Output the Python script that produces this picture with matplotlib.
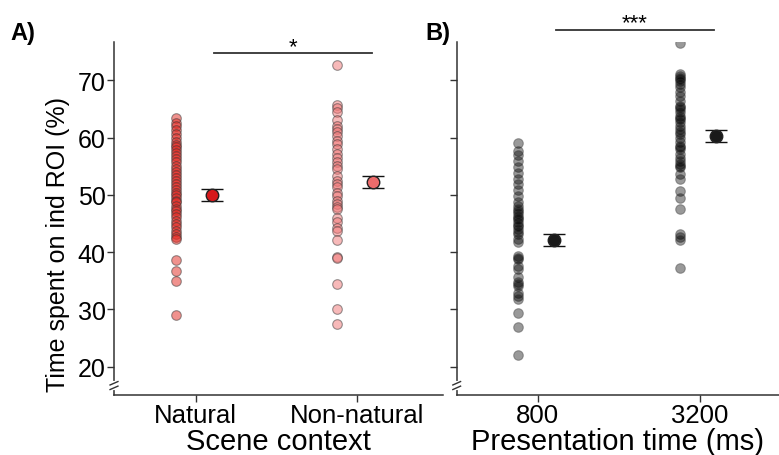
import matplotlib
matplotlib.use('Agg')
import matplotlib.pyplot as plt
from matplotlib.transforms import blended_transform_factory
import numpy as np

plt.rcParams['font.family'] = ['Liberation Sans', 'DejaVu Sans']

# ---------------- data ----------------
scene_categories = ['Natural', 'Non-natural']
natural_vals = [63.5, 62.6, 62.1, 61.4, 60.7, 60.0, 59.3, 58.7, 58.3, 57.9, 57.4, 56.8,
                56.3, 55.7, 55.1, 54.6, 54.0, 53.5, 53.0, 52.5, 51.9, 51.4, 50.9, 50.4,
                50.0, 49.5, 49.0, 48.7, 48.1, 47.6, 47.2, 46.7, 46.1, 45.5, 44.9, 44.4,
                43.7, 43.2, 42.7, 42.3, 38.6, 36.7, 35.0, 29.1]
nonnatural_vals = [72.6, 65.7, 65.1, 64.5, 63.1, 62.1, 61.5, 60.9, 60.3, 59.4, 58.9, 58.0,
                   57.1, 56.4, 55.7, 55.1, 54.5, 53.3, 52.4, 51.9, 51.3, 50.4, 49.8, 49.0,
                   48.4, 47.8, 47.5, 46.0, 45.2, 44.3, 43.7, 42.2, 39.2, 39.0, 34.4, 30.1, 27.4]
scene_means = [50.0, 52.3]
scene_se = [1.1, 1.05]

time_categories = ['800', '3200']
t800_vals = [59.0, 57.7, 56.9, 55.9, 54.8, 53.9, 52.7, 51.9, 50.9, 49.8, 48.7, 48.0,
             47.5, 47.2, 46.9, 46.3, 46.0, 45.8, 45.2, 44.8, 44.6, 44.0, 43.5, 43.1,
             42.3, 41.7, 39.3, 39.0, 38.8, 37.6, 37.0, 35.6, 34.7, 34.4, 34.1, 32.9,
             32.3, 31.8, 29.4, 26.9, 22.1]
t3200_vals = [76.5, 71.1, 70.8, 70.5, 70.2, 69.9, 69.4, 68.8, 67.9, 67.3, 66.4, 65.6,
              65.3, 65.0, 64.4, 63.8, 63.5, 63.2, 62.7, 62.1, 61.5, 61.0, 60.6, 60.0,
              59.2, 58.6, 58.3, 58.0, 57.1, 56.5, 55.9, 55.4, 55.0, 54.8, 53.6, 52.7,
              50.7, 49.5, 47.6, 43.1, 42.6, 42.1, 37.3]
time_means = [42.1, 60.3]
time_se = [1.0, 1.05]

y_ticks = [20, 30, 40, 50, 60, 70]
y_limits = (15.05, 76.7)

# ---------------- figure ----------------
W, H = 779, 456
fig = plt.figure(figsize=(W / 100, H / 100), dpi=100)
axA = fig.add_axes([114 / W, 1 - 396 / H, (443 - 114) / W, (396 - 43) / H])
axB = fig.add_axes([456.7 / W, 1 - 396 / H, (779 - 456.7) / W, (396 - 43) / H])

spine_col = '#333333'


def style(ax, xlim):
    ax.set_xlim(*xlim)
    ax.set_ylim(*y_limits)
    for s in ['top', 'right']:
        ax.spines[s].set_visible(False)
    for s in ['left', 'bottom']:
        ax.spines[s].set_color(spine_col)
        ax.spines[s].set_linewidth(1.1)
    ax.set_yticks(y_ticks)
    ax.tick_params(axis='both', direction='out', length=5, width=1.0, color=spine_col)
    ax.tick_params(axis='y', labelsize=18, pad=1)
    ax.tick_params(axis='x', labelsize=18.5, pad=1)
    # axis break mark
    tr = blended_transform_factory(ax.transAxes, ax.transData)
    ax.plot([0, 0], [16.3, 17.1], color='white', lw=3, transform=tr, clip_on=False, zorder=5)
    ax.plot([-0.012, 0.012], [16.0, 16.6], color=spine_col, lw=1.0, transform=tr,
            clip_on=False, zorder=6)
    ax.plot([-0.012, 0.012], [16.8, 17.4], color=spine_col, lw=1.0, transform=tr,
            clip_on=False, zorder=6)


def panel(ax, cats, groups, means, ses, dot_cols, dot_alpha, mean_cols):
    pos = np.arange(1, len(cats) + 1)
    for p, vals, dc in zip(pos, groups, dot_cols):
        ax.scatter(np.full(len(vals), p - 0.125), vals, s=48, c=dc, alpha=dot_alpha,
                   edgecolors='#333333', linewidths=0.8, zorder=3)
    for p, m, se, mc in zip(pos, means, ses, mean_cols):
        ax.errorbar(p + 0.1, m, yerr=se, fmt='o', ms=9, mfc=mc, mec='#222222',
                    mew=1.0, ecolor='#111111', elinewidth=2.2, capsize=8, capthick=2.2,
                    zorder=4)
    ax.set_xticks(pos)
    ax.set_xticklabels(cats)


panel(axA, scene_categories, [natural_vals, nonnatural_vals], scene_means, scene_se,
      ['#e3261f', '#f07575'], 0.5, ['#d7191c', '#ec6b6b'])
panel(axB, time_categories, [t800_vals, t3200_vals], time_means, time_se,
      ['#000000', '#000000'], 0.4, ['#1a1a1a', '#1a1a1a'])

style(axA, (0.493, 2.533))
style(axB, (0.5, 2.487))
axB.set_yticklabels([])

axA.set_ylabel('Time spent on ind ROI (%)', fontsize=18)
axA.yaxis.set_label_coords(-0.135, 0.43)
axA.set_xlabel('Scene context', fontsize=21, labelpad=0)
axB.set_xlabel('Presentation time (ms)', fontsize=21, labelpad=0)

# significance bars
axA.plot([1.113, 2.093], [74.8, 74.8], color='#333333', lw=1.3, clip_on=False)
axA.text(1.6, 74.1, '*', ha='center', va='bottom', fontsize=16)
axB.plot([1.113, 2.087], [78.8, 78.8], color='#333333', lw=1.3, clip_on=False)
axB.text(1.6, 78.3, '***', ha='center', va='bottom', fontsize=16)

# panel labels
fig.text(10 / W, 1 - 40 / H, 'A)', fontsize=17, fontweight='bold', ha='left', va='baseline')
fig.text(425 / W, 1 - 40 / H, 'B)', fontsize=17, fontweight='bold', ha='left', va='baseline')

fig.savefig('out.png', dpi=100)
